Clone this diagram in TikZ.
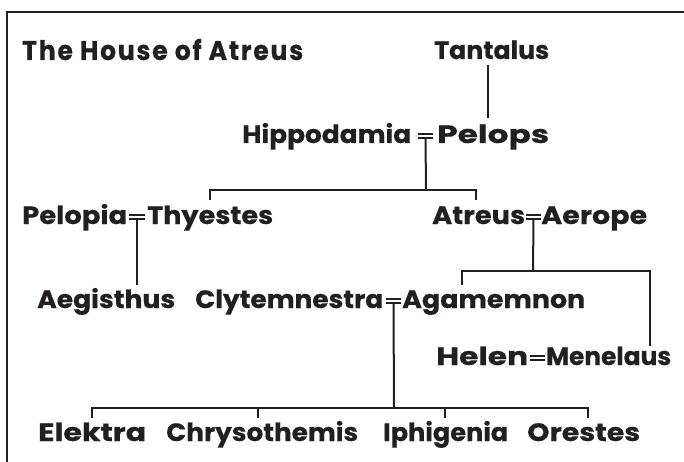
\documentclass[tikz,border=0pt]{standalone}
\usepackage{fontspec}
\setmainfont{Poppins}[BoldFeatures={FakeBold=0.5}]
\usepackage{graphicx}
\definecolor{ink}{HTML}{231F20}
\newlength\fitlen
\newcommand\fitto[2]{\settowidth\fitlen{#2}\pgfmathsetmacro\fitsx{#1/\fitlen}\scalebox{\fitsx}[1]{#2}}
\begin{document}
\begin{tikzpicture}[x=1pt,y=-1pt,
  person/.style={anchor=base west, inner sep=0pt, text=ink, font=\fontsize{25}{25}\selectfont\bfseries},
  titletext/.style={anchor=base west, inner sep=0pt, text=ink, font=\fontsize{27}{27}\selectfont\bfseries\addfontfeature{LetterSpace=7}},
  link/.style={draw=ink, line width=2pt},
  frame/.style={draw=ink, line width=1.3pt},
  bar/.style={draw=ink, line width=1.8pt}]
\useasboundingbox (0,0) rectangle (684,462);
\draw[frame] (7,462) -- (7,12) -- (684,12);

% names
\node[titletext] (title) at (22,60) {\fitto{281}{The House of Atreus}};
\node[person] (tantalus) at (434,59) {\fitto{115}{Tantalus}};
\node[person] (hippodamia) at (242,143) {\fitto{169}{Hippodamia}};
\node[person] (pelops) at (437,143) {\fitto{112}{Pelops}};
\node[person] (pelopia) at (22,224) {\fitto{105}{Pelopia}};
\node[person] (thyestes) at (147,224) {\fitto{126}{Thyestes}};
\node[person] (atreus) at (432,224) {\fitto{93}{Atreus}};
\node[person] (aerope) at (541,224) {\fitto{106}{Aerope}};
\node[person] (aegisthus) at (37,308) {\fitto{138}{Aegisthus}};
\node[person] (clytemnestra) at (195,308) {\fitto{188}{Clytemnestra}};
\node[person] (agamemnon) at (402,308) {\fitto{183}{Agamemnon}};
\node[person] (helen) at (436,365) {\fitto{92}{Helen}};
\node[person] (menelaus) at (546,365) {\fitto{125}{Menelaus}};
\node[person] (elektra) at (38,441) {\fitto{108}{Elektra}};
\node[person] (chrysothemis) at (166,441) {\fitto{192}{Chrysothemis}};
\node[person] (iphigenia) at (383,441) {\fitto{125}{Iphigenia}};
\node[person] (orestes) at (527,441) {\fitto{113}{Orestes}};

% marriage signs
\newcommand\wed[4]{%
  \draw[bar] (#2,#4-9) -- (#3,#4-9);
  \draw[bar] (#2,#4-5) -- (#3,#4-5);
  \coordinate (#1) at ({(#2+#3)/2},#4-5);}
\wed{mHP}{418}{433}{143}
\wed{mPT}{129}{145}{224}
\wed{mAA}{526}{541}{224}
\wed{mCA}{386}{401}{308}
\wed{mHM}{530}{545}{365}

% Tantalus -> Pelops
\coordinate (tTop) at (488,65);
\coordinate (tBot) at (488,118);
\draw[link] (tTop) -- (tBot);

% Hippodamia = Pelops -> Thyestes, Atreus
\coordinate (jHP) at (426,190);
\coordinate (cThy) at (210,200);
\coordinate (cAtr) at (476,200);
\draw[link] (mHP) -- (jHP);
\draw[link] (cThy) |- (jHP) -| (cAtr);

% Pelopia = Thyestes -> Aegisthus
\coordinate (cAeg) at (137,285);
\draw[link] (mPT) -- (cAeg);

% Atreus = Aerope -> Agamemnon, Menelaus
\coordinate (jAA) at (533,271);
\coordinate (cAga) at (462,285);
\coordinate (cMen) at (650,346);
\draw[link] (mAA) -- (jAA);
\draw[link] (cAga) |- (jAA) -| (cMen);

% Clytemnestra = Agamemnon -> children
\coordinate (jCA) at (394,408);
\coordinate (cEle) at (92,418);
\coordinate (cChr) at (258,418);
\coordinate (cIph) at (445,418);
\coordinate (cOre) at (588,418);
\draw[link] (mCA) -- (jCA);
\draw[link] (cEle) |- (jCA) -| (cOre);
\draw[link] (cChr) -- (cChr |- jCA);
\draw[link] (cIph) -- (cIph |- jCA);
\end{tikzpicture}
\end{document}
